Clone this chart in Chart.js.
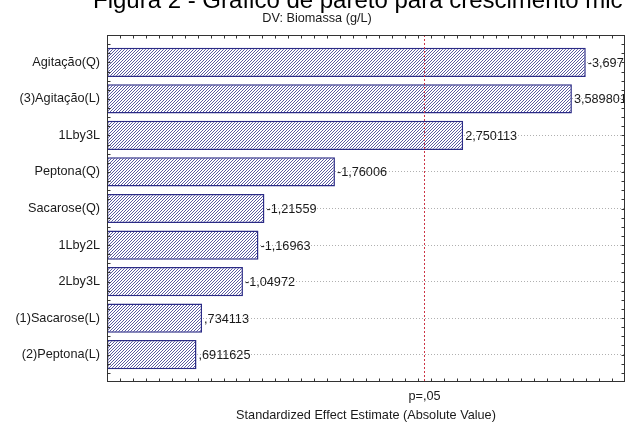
<!DOCTYPE html>
<html>
<head>
<meta charset="utf-8">
<script src="https://cdn.jsdelivr.net/npm/chart.js@4"></script>
<style>
  html, body { margin: 0; padding: 0; background: #fff; }
  #wrap { width: 627px; height: 425px; }
</style>
</head>
<body>
<div id="wrap"><canvas id="pareto_Chart" width="627" height="425"></canvas></div>
<script>
// 효과 데이터 (Pareto)
const factorLabels = ['Agitação(Q)', '(3)Agitação(L)', '1Lby3L', 'Peptona(Q)', 'Sacarose(Q)',
    '1Lby2L', '2Lby3L', '(1)Sacarose(L)', '(2)Peptona(L)'];
const effectValues = [3.697, 3.589801, 2.750113, 1.76006, 1.21559, 1.16963, 1.04972, 0.734113, 0.6911625];
const effectText = ['-3,697', '3,589801', '2,750113', '-1,76006', '-1,21559', '-1,16963', '-1,04972', ',734113', ',6911625'];
const pCritical = 2.446912;
const pLabel = 'p=,05';
const captionText = 'Figura 2 - Gráfico de pareto para crescimento mic';
const titleText = 'DV: Biomassa (g/L)';
const xTitle = 'Standardized Effect Estimate (Absolute Value)';

const FONT = "'Liberation Sans', Arial, sans-serif";
const FSIZE = 12.7;
const NAVY = '#2b2b86';

// 빗금 패턴
function makeHatch() {
    const c = document.createElement('canvas');
    c.width = 3; c.height = 3;
    const g = c.getContext('2d');
    g.fillStyle = '#ffffff';
    g.fillRect(0, 0, 3, 3);
    g.fillStyle = '#5a5aa0';
    g.fillRect(2, 0, 1, 1);
    g.fillRect(1, 1, 1, 1);
    g.fillRect(0, 2, 1, 1);
    return g.createPattern(c, 'repeat');
}

const decorPlugin = {
    id: 'decor',
    afterDatasetsDraw(chart) {
        const ctx = chart.ctx;
        const area = chart.chartArea;
        const xs = chart.scales.x;
        const ys = chart.scales.y;

        // p=.05 기준선
        const px = Math.round(xs.getPixelForValue(pCritical)) + 0.5;
        ctx.save();
        ctx.strokeStyle = '#cc3344';
        ctx.lineWidth = 1;
        ctx.setLineDash([2, 2]);
        ctx.beginPath();
        ctx.moveTo(px, area.top);
        ctx.lineTo(px, area.bottom);
        ctx.stroke();
        ctx.restore();

        // 막대 값 라벨
        ctx.save();
        ctx.beginPath();
        ctx.rect(area.left, area.top, area.right - area.left, area.bottom - area.top);
        ctx.clip();
        ctx.font = FSIZE + 'px ' + FONT;
        ctx.fillStyle = '#1a1a1a';
        ctx.textAlign = 'left';
        ctx.textBaseline = 'middle';
        chart.getDatasetMeta(0).data.forEach((bar, i) => {
            ctx.fillText(effectText[i], bar.x + 2, bar.y + 1);
        });
        ctx.restore();

        // 테두리와 눈금
        ctx.save();
        ctx.strokeStyle = '#333';
        ctx.lineWidth = 1;
        const L = Math.round(area.left) + 0.5, R = Math.round(area.right) - 0.5;
        const T = Math.round(area.top) + 0.5, B = Math.round(area.bottom) - 0.5;
        ctx.strokeRect(L, T, R - L, B - T);
        ctx.beginPath();
        for (let v = 0.1; v < 4; v += 0.1) {
            const x = Math.round(xs.getPixelForValue(v)) + 0.5;
            ctx.moveTo(x, T); ctx.lineTo(x, T + 3);
            ctx.moveTo(x, B); ctx.lineTo(x, B - 3);
        }
        for (let v = -0.5; v < 8.75; v += 0.25) {
            const y = Math.round(ys.getPixelForValue(v)) + 0.5;
            ctx.moveTo(L, y); ctx.lineTo(L + 3, y);
            ctx.moveTo(R, y); ctx.lineTo(R - 3, y);
        }
        ctx.stroke();
        ctx.restore();

        // 텍스트
        ctx.save();
        ctx.fillStyle = '#1a1a1a';
        ctx.textAlign = 'center';
        ctx.textBaseline = 'middle';
        ctx.font = FSIZE + 'px ' + FONT;
        ctx.fillText(pLabel, px, 396);
        ctx.fillText(titleText, 317, 18);
        ctx.textAlign = 'left';
        ctx.textBaseline = 'alphabetic';
        ctx.font = '24px ' + FONT;
        ctx.fillStyle = '#000';
        ctx.fillText(captionText, 93, 8);
        ctx.restore();
    }
};

const ctxPareto = document.getElementById('pareto_Chart').getContext('2d');
new Chart(ctxPareto, {
    type: 'bar',
    data: {
        datasets: [{
            data: effectValues.map((v, i) => ({ x: v, y: i })),
            backgroundColor: makeHatch(),
            borderColor: NAVY,
            borderWidth: 1.5,
            borderSkipped: false,
            categoryPercentage: 0.8,
            barPercentage: 1.0,
        }]
    },
    options: {
        responsive: false,
        animation: false,
        indexAxis: 'y',
        layout: {
            padding: { top: 35, right: 2, left: 0, bottom: 0 }
        },
        plugins: {
            legend: { display: false },
            tooltip: { enabled: false }
        },
        scales: {
            x: {
                type: 'linear',
                min: 0,
                max: 4,
                offset: false,
                grid: { display: false },
                border: { display: false },
                ticks: { display: false },
                title: {
                    display: true,
                    text: xTitle,
                    color: '#1a1a1a',
                    font: { family: FONT, size: FSIZE },
                    padding: { top: 0, bottom: 2 }
                },
                afterFit: (scale) => { scale.height = 43; }
            },
            y: {
                type: 'linear',
                reverse: true,
                min: -0.75,
                max: 8.75,
                offset: false,
                grid: {
                    color: '#b0b0b0',
                    drawTicks: false,
                    offset: false,
                },
                border: { display: false, dash: [1, 2] },
                ticks: {
                    padding: 7,
                    color: '#1a1a1a',
                    font: { family: FONT, size: FSIZE },
                    callback: (value) => factorLabels[value] || ''
                },
                afterBuildTicks: (scale) => {
                    scale.ticks = factorLabels.map((_, i) => ({ value: i }));
                },
                afterFit: (scale) => { scale.width = 107; }
            }
        }
    },
    plugins: [decorPlugin]
});
</script>
</body>
</html>
